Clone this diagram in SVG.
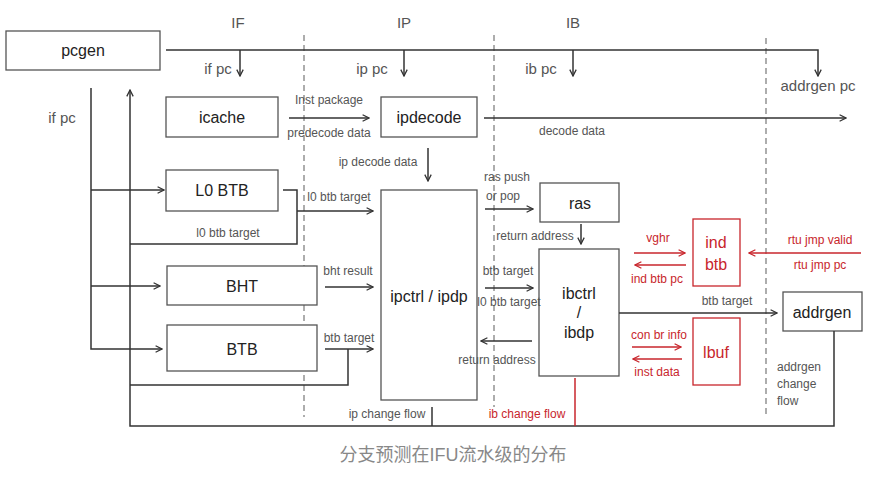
<svg xmlns="http://www.w3.org/2000/svg" width="881" height="485" viewBox="0 0 881 485">
<defs>
<marker id="ah" viewBox="0 0 10 10" refX="9" refY="5" markerWidth="8" markerHeight="8" markerUnits="userSpaceOnUse" orient="auto"><path d="M1,1 L9,5 L1,9" fill="none" stroke="#333" stroke-width="1.6"/></marker>
<marker id="ahr" viewBox="0 0 10 10" refX="9" refY="5" markerWidth="8" markerHeight="8" markerUnits="userSpaceOnUse" orient="auto"><path d="M1,1 L9,5 L1,9" fill="none" stroke="#c8262c" stroke-width="1.6"/></marker>
<style>
.box{fill:#fff;stroke:#555;stroke-width:1.3}
.rbox{fill:#fff;stroke:#c8262c;stroke-width:1.3}
.ln{fill:none;stroke:#333;stroke-width:1.5}
.rln{fill:none;stroke:#c8262c;stroke-width:1.5}
.dash{fill:none;stroke:#777;stroke-width:1.2;stroke-dasharray:6,4}
.bt{font-family:"Liberation Sans",Arial,sans-serif;font-size:16px;fill:#222;text-anchor:middle}
.rbt{font-family:"Liberation Sans",Arial,sans-serif;font-size:16px;fill:#c8262c;text-anchor:middle}
.st{font-family:"Liberation Sans",Arial,sans-serif;font-size:15px;fill:#555;text-anchor:middle}
.lb{font-family:"Liberation Sans",Arial,sans-serif;font-size:12px;fill:#555;text-anchor:middle}
.ls{text-anchor:start}
.rlb{font-family:"Liberation Sans",Arial,sans-serif;font-size:12px;fill:#c8262c;text-anchor:middle}
.cap{font-family:"Liberation Sans","Noto Sans CJK SC",sans-serif;font-size:18px;fill:#888;text-anchor:middle}
</style>
</defs>
<rect width="881" height="485" fill="#fff"/>

<g id="stages">
<line class="dash" x1="304" y1="35" x2="304" y2="417"/>
<line class="dash" x1="494" y1="35" x2="494" y2="407"/>
<line class="dash" x1="766" y1="38" x2="766" y2="418"/>
<text class="st" x="238" y="28">IF</text>
<text class="st" x="404" y="28">IP</text>
<text class="st" x="573" y="28">IB</text>
</g>

<g id="pcgen"><rect class="box" x="6" y="31" width="154" height="39"/><text class="bt" x="83" y="56">pcgen</text></g>
<g id="icache"><rect class="box" x="166" y="97" width="112" height="40"/><text class="bt" x="222" y="123">icache</text></g>
<g id="ipdecode"><rect class="box" x="381" y="97" width="96" height="40"/><text class="bt" x="429" y="123">ipdecode</text></g>
<g id="l0btb"><rect class="box" x="166" y="170" width="112" height="41"/><text class="bt" x="222" y="196">L0 BTB</text></g>
<g id="bht"><rect class="box" x="167" y="266" width="150" height="39"/><text class="bt" x="242" y="292">BHT</text></g>
<g id="btb"><rect class="box" x="167" y="325" width="150" height="46"/><text class="bt" x="242" y="355">BTB</text></g>
<g id="ipctrl"><rect class="box" x="381" y="190" width="96" height="210"/><text class="bt" x="429" y="302">ipctrl / ipdp</text></g>
<g id="ras"><rect class="box" x="540" y="183" width="79" height="39"/><text class="bt" x="580" y="209">ras</text></g>
<g id="ibctrl"><rect class="box" x="539" y="249" width="80" height="127"/><text class="bt" x="579" y="299">ibctrl</text><text class="bt" x="579" y="318">/</text><text class="bt" x="579" y="338">ibdp</text></g>
<g id="indbtb"><rect class="rbox" x="693" y="219" width="47" height="67"/><text class="rbt" x="716" y="248">ind</text><text class="rbt" x="716" y="270">btb</text></g>
<g id="lbuf"><rect class="rbox" x="693" y="318" width="47" height="67"/><text class="rbt" x="716" y="358">lbuf</text></g>
<g id="addrgen"><rect class="box" x="783" y="292" width="79" height="39"/><text class="bt" x="822" y="318">addrgen</text></g>

<g id="connectors">
<path class="ln" d="M166,50 H818 V76" marker-end="url(#ah)"/>
<line class="ln" x1="240" y1="50" x2="240" y2="76" marker-end="url(#ah)"/>
<line class="ln" x1="404" y1="50" x2="404" y2="76" marker-end="url(#ah)"/>
<line class="ln" x1="573" y1="50" x2="573" y2="76" marker-end="url(#ah)"/>
<text class="st" x="218" y="74">if pc</text>
<text class="st" x="372" y="74">ip pc</text>
<text class="st" x="541" y="74">ib pc</text>
<text class="st" x="818" y="91">addrgen pc</text>
<path class="ln" d="M91,88 V349 H162" marker-end="url(#ah)"/>
<line class="ln" x1="91" y1="190" x2="164" y2="190" marker-end="url(#ah)"/>
<line class="ln" x1="91" y1="286" x2="160" y2="286" marker-end="url(#ah)"/>
<text class="st" x="62" y="123">if pc</text>
<path class="ln" d="M834,331 V426 H130 V90" marker-end="url(#ah)"/>
<line class="ln" x1="289" y1="118" x2="369" y2="118" marker-end="url(#ah)"/>
<text class="lb" x="329" y="104">Inst package</text>
<text class="lb" x="329" y="137">predecode data</text>
<line class="ln" x1="484" y1="118" x2="846" y2="118" marker-end="url(#ah)"/>
<text class="lb" x="572" y="135">decode data</text>
<line class="ln" x1="428" y1="148" x2="428" y2="181" marker-end="url(#ah)"/>
<text class="lb" x="378" y="166">ip decode data</text>
<path class="ln" d="M283,190 H297 V244 H130"/>
<line class="ln" x1="297" y1="211" x2="373" y2="211" marker-end="url(#ah)"/>
<text class="lb" x="339" y="201">l0 btb target</text>
<text class="lb" x="228" y="237">l0 btb target</text>
<line class="ln" x1="325" y1="287" x2="373" y2="287" marker-end="url(#ah)"/>
<text class="lb" x="348" y="275">bht result</text>
<line class="ln" x1="325" y1="349" x2="373" y2="349" marker-end="url(#ah)"/>
<path class="ln" d="M348,349 V385 H130"/>
<text class="lb" x="349" y="342">btb target</text>
<line class="ln" x1="485" y1="209" x2="533" y2="209" marker-end="url(#ah)"/>
<text class="lb ls" x="484" y="181">ras push</text>
<text class="lb ls" x="486" y="200">or pop</text>
<line class="ln" x1="581" y1="224" x2="581" y2="244" marker-end="url(#ah)"/>
<text class="lb" x="535" y="240">return address</text>
<line class="ln" x1="485" y1="288" x2="533" y2="288" marker-end="url(#ah)"/>
<text class="lb" x="508" y="275">btb target</text>
<text class="lb" x="509" y="306">l0 btb target</text>
<line class="ln" x1="532" y1="341" x2="481" y2="341" marker-end="url(#ah)"/>
<text class="lb" x="497" y="364">return address</text>
<line class="ln" x1="619" y1="313" x2="777" y2="313" marker-end="url(#ah)"/>
<text class="lb" x="727" y="305">btb target</text>
<line class="rln" x1="634" y1="253" x2="685" y2="253" marker-end="url(#ahr)"/>
<line class="rln" x1="686" y1="265" x2="635" y2="265" marker-end="url(#ahr)"/>
<text class="rlb" x="658" y="242">vghr</text>
<text class="rlb" x="657" y="283">ind btb pc</text>
<line class="rln" x1="861" y1="253" x2="749" y2="253" marker-end="url(#ahr)"/>
<text class="rlb" x="820" y="244">rtu jmp valid</text>
<text class="rlb" x="820" y="269">rtu jmp pc</text>
<line class="rln" x1="632" y1="347" x2="681" y2="347" marker-end="url(#ahr)"/>
<line class="rln" x1="682" y1="359" x2="633" y2="359" marker-end="url(#ahr)"/>
<text class="rlb" x="659" y="339">con br info</text>
<text class="rlb" x="657" y="376">inst data</text>
<line class="ln" x1="432" y1="407" x2="432" y2="426"/>
<text class="lb" x="387" y="418">ip change flow</text>
<line class="rln" x1="575" y1="378" x2="575" y2="426"/>
<text class="rlb" x="527" y="418">ib change flow</text>
<text class="lb ls" x="777" y="371">addrgen</text>
<text class="lb ls" x="777" y="388">change</text>
<text class="lb ls" x="777" y="405">flow</text>
</g>

<text class="cap" x="453" y="461">分支预测在IFU流水级的分布</text>
</svg>
